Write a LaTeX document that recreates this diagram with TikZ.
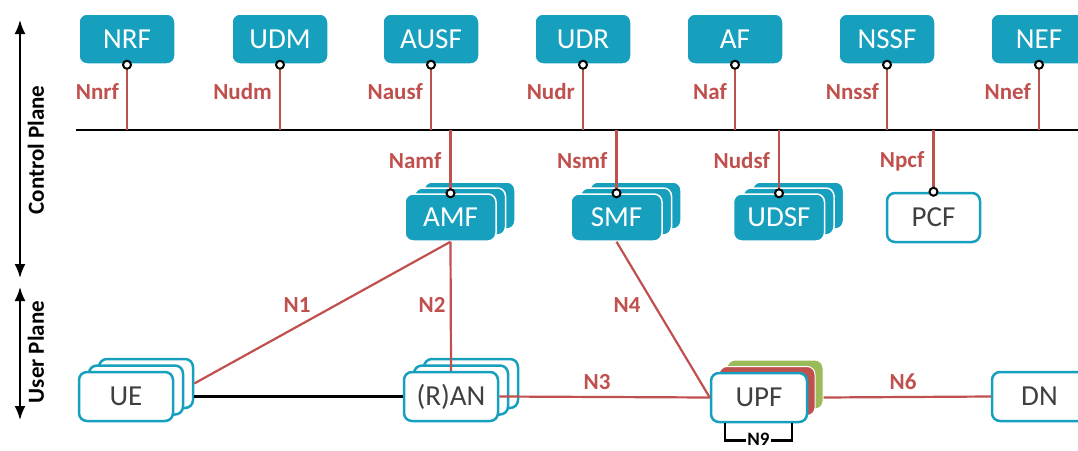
\documentclass[tikz,border=0pt]{standalone}
\usepackage{fontspec}
\setmainfont{Carlito}
\usepackage{tikz}
\usetikzlibrary{arrows.meta}

\definecolor{nfteal}{RGB}{23,160,190}
\definecolor{ifred}{RGB}{192,80,77}
\definecolor{upfgreen}{RGB}{155,187,89}
\definecolor{txtgray}{RGB}{64,64,64}

\tikzset{
  nf/.style={draw=white, line width=1.5pt, fill=nfteal, rounded corners=8pt,
    minimum width=96pt, minimum height=50pt, text=white,
    font=\fontsize{29}{31}\selectfont},
  nfo/.style={draw=nfteal, line width=2.5pt, fill=white, rounded corners=8pt,
    minimum width=94pt, minimum height=49pt, text=txtgray,
    font=\fontsize{29}{31}\selectfont},
  iface/.style={text=ifred, font=\bfseries\fontsize{23}{25}\selectfont, inner sep=1pt},
  ifline/.style={ifred, line width=2.2pt},
  sba/.style={circle, draw=black, fill=white, line width=2pt, inner sep=0pt, minimum size=8pt},
  plane/.style={rotate=90, font=\bfseries\fontsize{23}{25}\selectfont},
}

\begin{document}
\begin{tikzpicture}[x=1pt,y=-1pt]
\clip (0,0) rectangle (1078,450);

% planes
\coordinate (cpT) at (20,20);
\coordinate (cpB) at (20,278);
\coordinate (upT) at (20,287);
\coordinate (upB) at (20,420);
\draw[line width=2pt, {Latex[length=14pt,width=11pt]}-{Latex[length=14pt,width=11pt]}] (cpT) -- (cpB);
\draw[line width=2pt, {Latex[length=14pt,width=11pt]}-{Latex[length=14pt,width=11pt]}] (upT) -- (upB);
\node[plane] (cpLbl) at (36,150) {Control Plane};
\node[plane] (upLbl) at (36,352) {User Plane};

% service bus
\coordinate (busL) at (76,130);
\coordinate (busR) at (1080,130);
\draw[line width=2.5pt] (busL) -- (busR);

% top row
\foreach \nm/\x/\ifc in {NRF/127/Nnrf, UDM/280/Nudm, AUSF/431/Nausf, UDR/583/Nudr,
                          AF/735/Naf, NSSF/887/Nnssf, NEF/1039/Nnef}{
  \node[nf] (\nm) at (\x,39) {\nm};
  \draw[ifline] (\nm.south) -- (\nm.south |- busL);
  \node[sba] (\nm sba) at (\nm.south) {};
  \node[iface, anchor=east] (l\nm) at (\x-7,92) {\ifc};
}

% second row
\foreach \nm/\x/\ifc in {AMF/450.5/Namf, SMF/616.5/Nsmf, UDSF/779/Nudsf}{
  \node[nf, minimum width=91pt, minimum height=47pt] (\nm3) at (\x+19,205.5) {};
  \node[nf, minimum width=91pt, minimum height=47pt] (\nm2) at (\x+9.5,211.5) {};
  \node[nf, minimum width=91pt, minimum height=47pt] (\nm) at (\x,217.5) {\nm};
  \draw[ifline] (\nm.north |- busL) -- (\nm.north);
  \node[sba] (\nm sba) at (\nm.north) {};
  \node[iface, anchor=east] (l\nm) at (\x-8,161) {\ifc};
}
\node[nfo, minimum width=93pt] (PCF) at (933.5,217.5) {PCF};
\draw[ifline] (PCF.north |- busL) -- (PCF.north);
\node[sba] (PCFsba) at (PCF.north) {};
\node[iface, anchor=east] (lPCF) at (925.5,161) {Npcf};

% user plane
\foreach \nm/\txt/\x in {UE/UE/126, RAN/{(R)AN}/451}{
  \node[nfo] (\nm3) at (\x+20,383.5) {};
  \node[nfo] (\nm2) at (\x+10,390) {};
  \node[nfo] (\nm) at (\x,396.5) {\txt};
}
\node[draw=white, line width=1pt, fill=upfgreen, rounded corners=8pt,
  minimum width=96pt, minimum height=49pt] (UPFg) at (775,384.5) {};
\node[draw=white, line width=1pt, fill=ifred, rounded corners=8pt,
  minimum width=96pt, minimum height=49pt] (UPFr) at (767,391) {};
\node[nfo, minimum width=96pt] (UPF) at (759,397.5) {UPF};
\node[nfo, minimum width=95pt] (DN) at (1039.5,396.5) {DN};

% connectors
\draw[line width=2.5pt] (UE.east -| UE3.east) -- (RAN.west);
\draw[ifline] (UE3.east) -- (AMF.south);
\draw[ifline] (AMF.south) -- (RAN.north);
\draw[ifline] (RAN.east) -- (UPF.west);
\draw[ifline] (SMF.south) -- (UPF.west);
\draw[ifline] (UPF.east -| UPFg.east) -- (DN.west);
\coordinate (n9a) at ([xshift=-34pt]UPF.south);
\coordinate (n9b) at ([xshift=33pt]UPF.south);
\draw[line width=2.5pt] (n9a) -- ++(0,17) -| (n9b);
\node[fill=white, inner sep=1pt, font=\bfseries\fontsize{19}{21}\selectfont] (lN9) at (758.5,439) {N9};

\node[iface] (lN1) at (297,305) {N1};
\node[iface] (lN2) at (432,305) {N2};
\node[iface] (lN4) at (627,305) {N4};
\node[iface] (lN3) at (597,382) {N3};
\node[iface] (lN6) at (903,382) {N6};
\end{tikzpicture}
\end{document}
